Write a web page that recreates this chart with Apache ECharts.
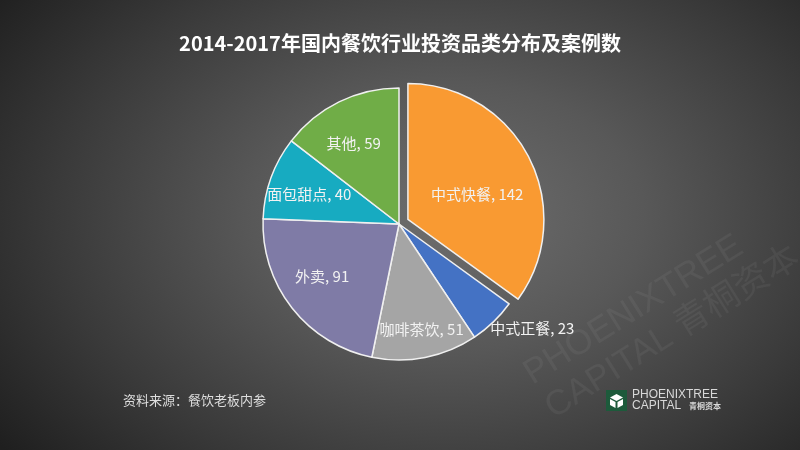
<!DOCTYPE html>
<html><head><meta charset="utf-8">
<script src="https://cdn.jsdelivr.net/npm/echarts@6/dist/echarts.min.js"></script>
<style>
html,body{margin:0;padding:0;}
#c{width:800px;height:450px;background:radial-gradient(ellipse 70% 85% at 56% 48%, #6e6e6e 0%, #585858 35%, #3a3a3a 70%, #1f1f1f 100%);}
</style></head>
<body><div id="c"></div>
<script>
const categories = ['中式快餐','中式正餐','咖啡茶饮','外卖','面包甜点','其他'];
const values = [142, 23, 51, 91, 40, 59];
const colors = ['#F99A32','#4472C4','#A5A5A5','#7F7BA6','#17ABC1','#70AD47'];
const labelOffsets = [[6,7],[84,53],[9,36],[-21,8],[-23,-5],[-14,-17]];

const chart = echarts.init(document.getElementById('c'), null, {renderer:'canvas'});
const FONT = '"Noto Sans CJK SC", "Noto Sans", sans-serif';
chart.setOption({
  backgroundColor: 'transparent',
  title: {
    text: '2014-2017年国内餐饮行业投资品类分布及案例数',
    left: 'center', top: 33, padding: 0,
    textStyle: {color:'#ffffff', fontSize: 20, fontWeight:'bold', fontFamily: FONT}
  },
  graphic: [
    {type:'text', left:123, top:394, style:{text:'资料来源：餐饮老板内参', fill:'#dddddd', font:'13px '+FONT}},
    {type:'group', x:518, y:362, rotation: 0.56, silent:true, children:[
      {type:'text', x:0, y:0, style:{text:'PHOENIXTREE', fill:'rgba(255,255,255,0.05)', textBaseline:'bottom', font:'35px "Liberation Sans", sans-serif'}},
      {type:'text', x:0, y:40, style:{text:'CAPITAL 青桐资本', fill:'rgba(255,255,255,0.05)', textBaseline:'bottom', font:'35px "Liberation Sans", "Noto Sans CJK SC", sans-serif'}}
    ]},
    {type:'rect', shape:{x:606, y:390, width:21, height:21}, style:{fill:'#1d5a3b'}},
    {type:'polygon', shape:{points:[[616.5,394],[623,397.5],[616.5,401],[610,397.5]]}, style:{fill:'#ffffff'}},
    {type:'polygon', shape:{points:[[610,399],[615.5,402],[615.5,408],[610,405]]}, style:{fill:'#ffffff'}},
    {type:'polygon', shape:{points:[[623,399],[617.5,402],[617.5,408],[623,405]]}, style:{fill:'#ffffff'}},
    {type:'text', left:632, top:389, style:{text:'PHOENIXTREE', fill:'#d8d8d8', font:'12px "Liberation Sans", sans-serif'}},
    {type:'text', left:632, top:400, style:{text:'CAPITAL', fill:'#d8d8d8', font:'12px "Liberation Sans", sans-serif'}},
    {type:'text', left:689, top:402, style:{text:'青桐资本', fill:'#d8d8d8', font:'bold 8px '+FONT}}
  ],
  series: [{
    type: 'pie',
    center: [399, 224],
    radius: 136,
    startAngle: 90,
    clockwise: true,
    selectedMode: 'single',
    selectedOffset: 10,
    animation: false,
    itemStyle: {borderColor:'#f0f0f0', borderWidth:1.5},
    label: {show:true, position:'inside', color:'#f2f2f2', fontSize:15, fontFamily: FONT,
      formatter: p => p.name + ', ' + p.value},
    labelLine: {show:false},
    emphasis: {disabled:true},
    data: categories.map((n,i)=>({
      name:n, value:values[i], selected: i===0,
      itemStyle:{color:colors[i]},
      label:{offset:labelOffsets[i]},
      select:{label:{offset:labelOffsets[i]}}
    }))
  }]
});
</script></body></html>
